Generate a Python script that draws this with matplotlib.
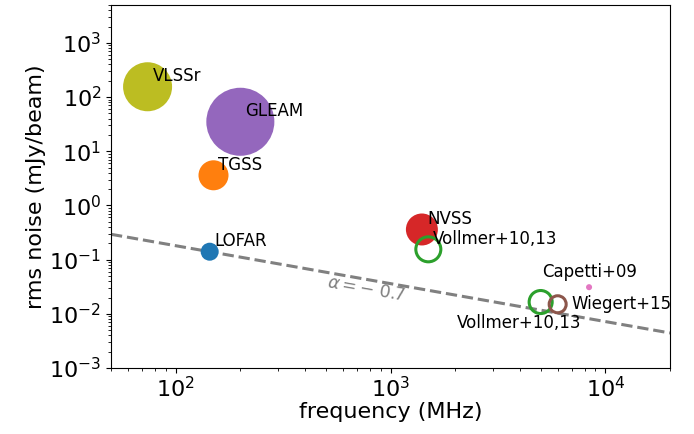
import matplotlib
matplotlib.use("Agg")
import matplotlib.pyplot as plt
import numpy as np

# survey data
names = ["VLSSr", "GLEAM", "TGSS", "LOFAR", "NVSS", "Vollmer+10,13", "Vollmer+10,13", "Wiegert+15", "Capetti+09"]
freq_mhz = [74, 200, 150, 144, 1400, 1500, 5000, 6000, 8400]
rms_mjy = [155, 35, 3.6, 0.14, 0.36, 0.155, 0.0165, 0.015, 0.031]
marker_area = [1245, 2400, 467, 168, 530, 324, 275, 150, 19]
filled = [True, True, True, True, True, False, False, False, True]
colors = ["#bcbd22", "#9467bd", "#ff7f0e", "#1f77b4", "#d62728", "#2ca02c", "#2ca02c", "#8c564b", "#e377c2"]

# spectral index line
alpha = -0.7
ref_freq = 144
ref_rms = 0.14
line_freq = [50, 20000]

fig = plt.figure(figsize=(6.94, 4.34), dpi=100)
ax = fig.add_axes([111/694, 1-368/434, (670-111)/694, (368-5)/434])
ax.set_xscale("log")
ax.set_yscale("log")

lf = np.array(line_freq, dtype=float)
ax.plot(lf, ref_rms*(lf/ref_freq)**alpha, "--", color="gray", lw=2.2, zorder=1)

for i, (n, f, r, s, fill, c) in enumerate(zip(names, freq_mhz, rms_mjy, marker_area, filled, colors)):
    if fill:
        ax.scatter([f], [r], s=s, color=c, edgecolors="none", zorder=2)
    else:
        ax.scatter([f], [r], s=s, facecolors="none", edgecolors=c, linewidths=2.2, zorder=3)

offsets = {0: (3.6, 4, "left", "baseline"), 1: (3.6, 4, "left", "baseline"), 2: (3.6, 4, "left", "baseline"),
           3: (3.6, 4, "left", "baseline"), 4: (3.6, 4, "left", "baseline"), 5: (3.6, 4, "left", "baseline"),
           6: (-60, -19, "left", "baseline"), 7: (10, 0, "left", "center"), 8: (0, 4.5, "center", "bottom")}
for i, n in enumerate(names):
    dx, dy, ha, va = offsets[i]
    ax.annotate(n, (freq_mhz[i], rms_mjy[i]), xytext=(dx, dy), textcoords="offset points",
                ha=ha, va=va, fontsize=12, zorder=5)

ax.text(767, 0.0287, r"$\alpha=-\;0.7$", color="gray", fontsize=12.5, rotation=-10,
        ha="center", va="center")

ax.set_xlim(50, 20000)
ax.set_ylim(1e-3, 5e3)
ax.set_xlabel("frequency (MHz)", fontsize=16, labelpad=1)
ax.set_ylabel("rms noise (mJy/beam)", fontsize=16, labelpad=2)
ax.tick_params(axis="both", which="major", labelsize=16)
ax.tick_params(axis="x", which="major", pad=2)

fig.savefig("out.png", dpi=100)
